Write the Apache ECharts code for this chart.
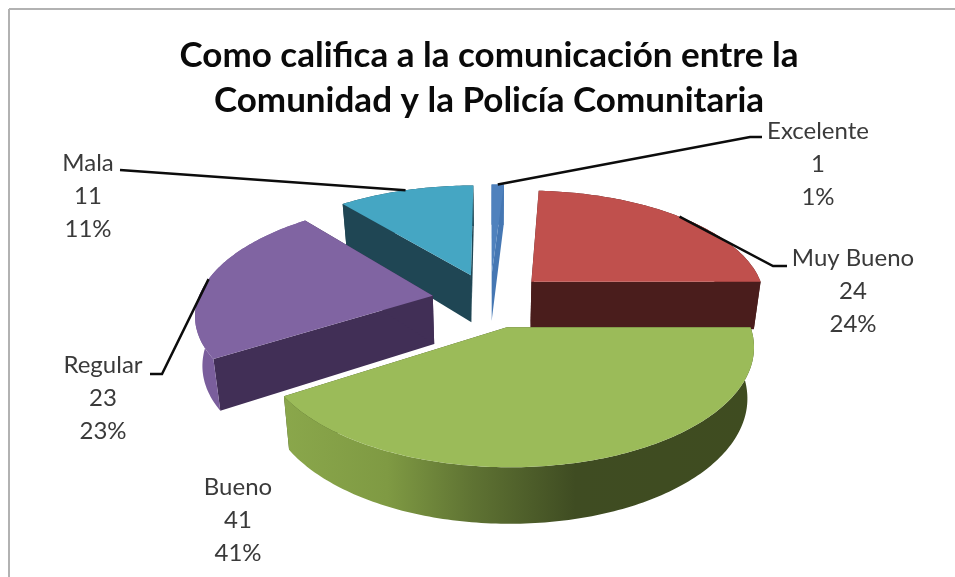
<!DOCTYPE html>
<html>
<head>
<meta charset="utf-8">
<style>html,body{margin:0;padding:0;background:#fff}#chart{width:955px;height:577px}</style>
<script src="https://cdn.jsdelivr.net/npm/echarts@6/dist/echarts.min.js"></script>
</head>
<body>
<div id="chart"></div>
<script>
// Survey answers, in clockwise order from twelve o'clock.
const categories = ['Excelente', 'Muy Bueno', 'Bueno', 'Regular', 'Mala'];
const responses = [1, 24, 41, 23, 11];
const titleLines = ['Como califica a la comunicación entre la', 'Comunidad y la Policía Comunitaria'];

// Slice colours: top face, cut face, outer wall stops (left to right).
const topColors = ['#4f81bd', '#c0504d', '#9bbb59', '#8064a2', '#45a6c3'];
const cutColors = ['#4577b3', '#4a1d1c', '#3f4d22', '#412f56', '#1f4654'];
const wallStops = [
  [[0, '#4577b3'], [1, '#4577b3']],
  [[0, '#4a1d1c'], [1, '#4a1d1c']],
  [[0, '#8aa74b'], [0.22, '#7f9a43'], [0.4, '#5f7333'], [0.62, '#3f4c22'], [1, '#3f4c20']],
  [[0, '#7a5e9c'], [1, '#7a5e9c']],
  [[0, '#1f4654'], [1, '#1f4654']]
];

// Perspective model of the disc: unit radius in world space.
const view = {
  cx: 490, cy: 300, radius: 235, depth: 110, perspective: 0.15,
  explode: 0.248, wallHeight: 48.5, wallTaper: 0.134, baseShrink: 0.975
};

// Label placement: centre of the three text lines and the elbow of the leader line.
const labelAnchors = [
  { x: 818, y: 164, elbow: [750, 137], end: [762, 137] },
  { x: 853, y: 291, elbow: [773, 266], end: [787, 266] },
  { x: 238, y: 520 },
  { x: 103, y: 398, elbow: [162, 374], end: [150, 374] },
  { x: 88,  y: 196, elbow: null, end: [120, 170] }
];

const total = responses.reduce((a, b) => a + b, 0);
const RAD = Math.PI / 180;

// Angular span of every slice, in degrees clockwise from the top.
const spans = [];
responses.reduce((start, v) => {
  const end = start + v / total * 360;
  spans.push([start, end]);
  return end;
}, 0);

function sliceCentre(i) {
  const mid = (spans[i][0] + spans[i][1]) / 2 * RAD;
  return [view.explode * Math.sin(mid), view.explode * Math.cos(mid)];
}

// World (x, z) on the top plane to pixels.
function projectTop(x, z) {
  const s = 1 / (1 + view.perspective * z);
  return [view.cx + view.radius * x * s, view.cy - view.depth * z * s];
}

// Same world point on the bottom plane of the disc.
function projectBase(x, z) {
  const p = projectTop(x, z);
  return [
    view.cx + (p[0] - view.cx) * view.baseShrink,
    p[1] + view.wallHeight * (1 - view.wallTaper * z)
  ];
}

function rimPoint(i, deg) {
  const c = sliceCentre(i);
  return [c[0] + Math.sin(deg * RAD), c[1] + Math.cos(deg * RAD)];
}

function rimSamples(i) {
  const [a, b] = spans[i];
  const n = Math.max(2, Math.ceil(b - a));
  const pts = [];
  for (let k = 0; k <= n; k++) pts.push(rimPoint(i, a + (b - a) * k / n));
  return pts;
}

// Paint back to front: slices deeper in the scene go first.
const paintRank = categories
  .map((_, i) => i)
  .sort((a, b) => sliceCentre(b)[1] - sliceCentre(a)[1]);

function polygon(points, fill, z2) {
  return { type: 'polygon', z2, silent: true, shape: { points }, style: { fill, stroke: null } };
}

function renderSlice(params, api) {
  const i = api.value(0);
  const base = paintRank.indexOf(i) * 10;
  const c = sliceCentre(i);
  const rim = rimSamples(i);
  const first = rim[0];
  const last = rim[rim.length - 1];
  const children = [];

  const cutFace = (p) => [
    projectTop(c[0], c[1]), projectTop(p[0], p[1]),
    projectBase(p[0], p[1]), projectBase(c[0], c[1])
  ];
  children.push(polygon(cutFace(first), cutColors[i], base));
  children.push(polygon(cutFace(last), cutColors[i], base));

  const wall = rim.map((p) => projectTop(p[0], p[1]))
    .concat(rim.slice().reverse().map((p) => projectBase(p[0], p[1])));
  const wallFill = new echarts.graphic.LinearGradient(0, 0, 1, 0,
    wallStops[i].map((s) => ({ offset: s[0], color: s[1] })));
  children.push(polygon(wall, wallFill, base + 1));

  const top = [projectTop(c[0], c[1])].concat(rim.map((p) => projectTop(p[0], p[1])));
  children.push(polygon(top, topColors[i], base + 2));

  // Label text and its leader line.
  const a = labelAnchors[i];
  children.push({
    type: 'text', z2: 200, silent: true,
    style: {
      x: a.x, y: a.y, align: 'center', verticalAlign: 'middle',
      text: categories[i] + '\n' + responses[i] + '\n' + Math.round(responses[i] / total * 100) + '%',
      font: '24px Lato', lineHeight: 33, fill: '#3a3a3a'
    }
  });
  if (a.end) {
    const midDeg = (spans[i][0] + spans[i][1]) / 2;
    const m = rimPoint(i, midDeg);
    const pts = [a.end];
    if (a.elbow) pts.push(a.elbow);
    pts.push(projectTop(m[0], m[1]));
    children.push({
      type: 'polyline', z2: 190, silent: true,
      shape: { points: pts },
      style: { stroke: '#0c0c0c', lineWidth: 2.5, fill: null }
    });
  }
  return { type: 'group', children };
}

const chart = echarts.init(document.getElementById('chart'), null, { renderer: 'canvas' });
chart.setOption({
  animation: false,
  backgroundColor: '#ffffff',
  title: {
    text: titleLines.join('\n'),
    left: 484, top: 28, textAlign: 'center',
    textStyle: { fontFamily: 'Lato', fontWeight: 'bold', fontSize: 35, lineHeight: 45, color: '#0a0a0a' }
  },
  tooltip: { show: false },
  graphic: [
    { type: 'line', silent: true, shape: { x1: 9, y1: 9, x2: 955, y2: 9 }, style: { stroke: '#b2b2b2', lineWidth: 2 } },
    { type: 'line', silent: true, shape: { x1: 9, y1: 9, x2: 9, y2: 577 }, style: { stroke: '#b2b2b2', lineWidth: 2 } }
  ],
  series: [{
    type: 'custom',
    coordinateSystem: 'none',
    renderItem: renderSlice,
    data: responses.map((v, i) => [i, v])
  }]
});
</script>
</body>
</html>
